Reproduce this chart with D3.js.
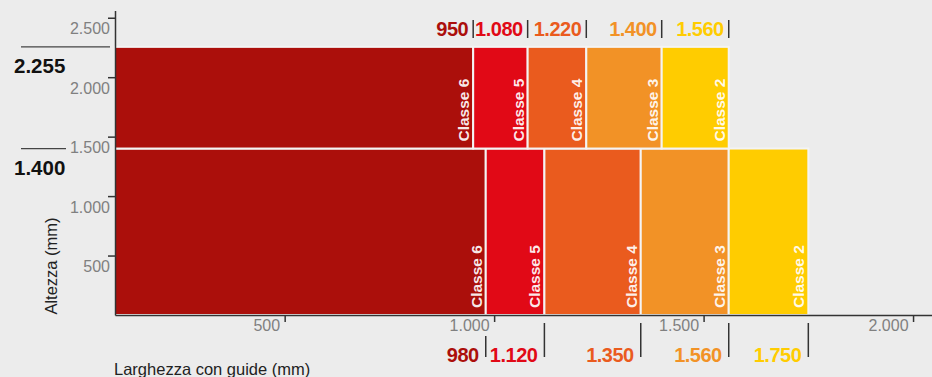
<!DOCTYPE html>
<html>
<head>
<meta charset="utf-8">
<script src="https://cdn.jsdelivr.net/npm/d3@7"></script>
<style>
  body { margin: 0; background: #ececec; }
  svg { display: block; font-family: "Liberation Sans", Arial, Helvetica, sans-serif; }
  .tick text { fill: #808080; font-size: 16px; }
  .tick line, .domain { stroke: #333; stroke-width: 1.5; }
</style>
</head>
<body>
<svg id="chart" width="932" height="377"></svg>
<script>
// Door classes, left to right
var classNames = ["Classe 6", "Classe 5", "Classe 4", "Classe 3", "Classe 2"];
var classColors = ["#ab0f0b", "#e10916", "#ea5b1e", "#f29226", "#ffcc00"];

// widths (mm) of the two rows
var topWidths = [950, 1080, 1220, 1400, 1560];
var bottomWidths = [980, 1120, 1350, 1560, 1750];

// heights (mm)
var topHeight = 2255;
var bottomHeight = 1400;

var xTickValues = [500, 1000, 1500, 2000];
var yTickValues = [500, 1000, 1500, 2000, 2500];

var it = d3.formatLocale({decimal: ",", thousands: ".", grouping: [3], currency: ["€", ""]});
var fmt = it.format(",");

var svg = d3.select("#chart");

var xScale = d3.scaleLinear().domain([95, 2050]).range([115, 934]);
var yScale = d3.scaleLinear().domain([0, 2560]).range([315, 10.6]);

var x0 = xScale.domain()[0];
var y0 = yScale.domain()[0];

// build the bar segments of one row
function rowSegments(widths, bottom, top) {
  return widths.map(function (w, i) {
    return {
      start: i === 0 ? x0 : widths[i - 1],
      end: w,
      bottom: bottom,
      top: top,
      name: classNames[i],
      color: classColors[i]
    };
  });
}

var segments = rowSegments(bottomWidths, y0, bottomHeight)
  .concat(rowSegments(topWidths, bottomHeight, topHeight));

var bars = svg.append("g").selectAll("g")
  .data(segments)
  .enter()
  .append("g");

bars.append("rect")
  .attr("x", function (d) { return xScale(d.start); })
  .attr("y", function (d) { return yScale(d.top); })
  .attr("width", function (d) { return xScale(d.end) - xScale(d.start); })
  .attr("height", function (d) { return yScale(d.bottom) - yScale(d.top); })
  .style("fill", function (d) { return d.color; })
  .style("stroke", "#f4f4f4")
  .style("stroke-width", 2);

bars.append("text")
  .attr("transform", function (d) {
    return "translate(" + (xScale(d.end) - 4) + "," + (yScale(d.bottom) - 7) + ") rotate(-90)";
  })
  .style("fill", "#fff")
  .style("fill-opacity", 0.92)
  .style("font-size", "15.5px")
  .style("font-weight", "bold")
  .text(function (d) { return d.name; });

// ##### Axes #####

var yAxis = d3.axisLeft(yScale).tickValues(yTickValues).tickSize(7).tickSizeOuter(0).tickFormat(fmt);
var gy = svg.append("g").attr("transform", "translate(115,0)").call(yAxis);
gy.selectAll(".tick text").attr("x", -5).attr("y", 16).attr("dy", null);

var xAxis = d3.axisBottom(xScale).tickValues(xTickValues).tickSize(7).tickSizeOuter(0).tickFormat(fmt);
var gx = svg.append("g").attr("transform", "translate(0,315)").call(xAxis);
gx.selectAll(".tick text").attr("x", -5).attr("y", 5).style("text-anchor", "end");

svg.append("text")
  .attr("transform", "translate(57,266) rotate(-90)")
  .style("text-anchor", "middle")
  .style("font-size", "16.5px")
  .style("fill", "#222")
  .text("Altezza (mm)");

svg.append("text")
  .attr("x", 114)
  .attr("y", 375)
  .style("font-size", "16.5px")
  .style("fill", "#222")
  .text("Larghezza con guide (mm)");

// ##### Width labels above and below #####

var topLabels = svg.append("g").selectAll("g")
  .data(topWidths)
  .enter()
  .append("g");

topLabels.append("line")
  .attr("x1", function (d) { return xScale(d); })
  .attr("x2", function (d) { return xScale(d); })
  .attr("y1", 20)
  .attr("y2", 38)
  .style("stroke", "#333")
  .style("stroke-width", 1.5);

topLabels.append("text")
  .attr("x", function (d) { return xScale(d) - 5; })
  .attr("y", 36)
  .style("text-anchor", "end")
  .style("font-size", "20px")
  .style("font-weight", "bold")
  .style("letter-spacing", "-0.5px")
  .style("fill", function (d, i) { return classColors[i]; })
  .text(function (d) { return fmt(d); });

// push the marker down when it sits under an x axis label
function markTop(v) {
  var hit = xTickValues.some(function (t) {
    return xScale(v) <= xScale(t) && xScale(v) > xScale(t) - 45;
  });
  return hit ? 336 : 323;
}

var bottomLabels = svg.append("g").selectAll("g")
  .data(bottomWidths)
  .enter()
  .append("g");

bottomLabels.append("line")
  .attr("x1", function (d) { return xScale(d); })
  .attr("x2", function (d) { return xScale(d); })
  .attr("y1", function (d) { return markTop(d); })
  .attr("y2", 357)
  .style("stroke", "#333")
  .style("stroke-width", 1.5);

bottomLabels.append("text")
  .attr("x", function (d) { return xScale(d) - 7; })
  .attr("y", 362)
  .style("text-anchor", "end")
  .style("font-size", "20px")
  .style("font-weight", "bold")
  .style("letter-spacing", "-0.5px")
  .style("fill", function (d, i) { return classColors[i]; })
  .text(function (d) { return fmt(d); });

// ##### Height markers on the left #####

var heightMarks = [
  {value: topHeight, lineEnd: 110},
  {value: bottomHeight, lineEnd: 66}
];

var hm = svg.append("g").selectAll("g")
  .data(heightMarks)
  .enter()
  .append("g");

hm.append("line")
  .attr("x1", 21)
  .attr("x2", function (d) { return d.lineEnd; })
  .attr("y1", function (d) { return yScale(d.value); })
  .attr("y2", function (d) { return yScale(d.value); })
  .style("stroke", "#444")
  .style("stroke-width", 1.2);

hm.append("text")
  .attr("x", 14)
  .attr("y", function (d) { return yScale(d.value) + 26; })
  .style("font-size", "20.5px")
  .style("font-weight", "bold")
  .style("fill", "#111")
  .text(function (d) { return fmt(d.value); });
</script>
</body>
</html>
